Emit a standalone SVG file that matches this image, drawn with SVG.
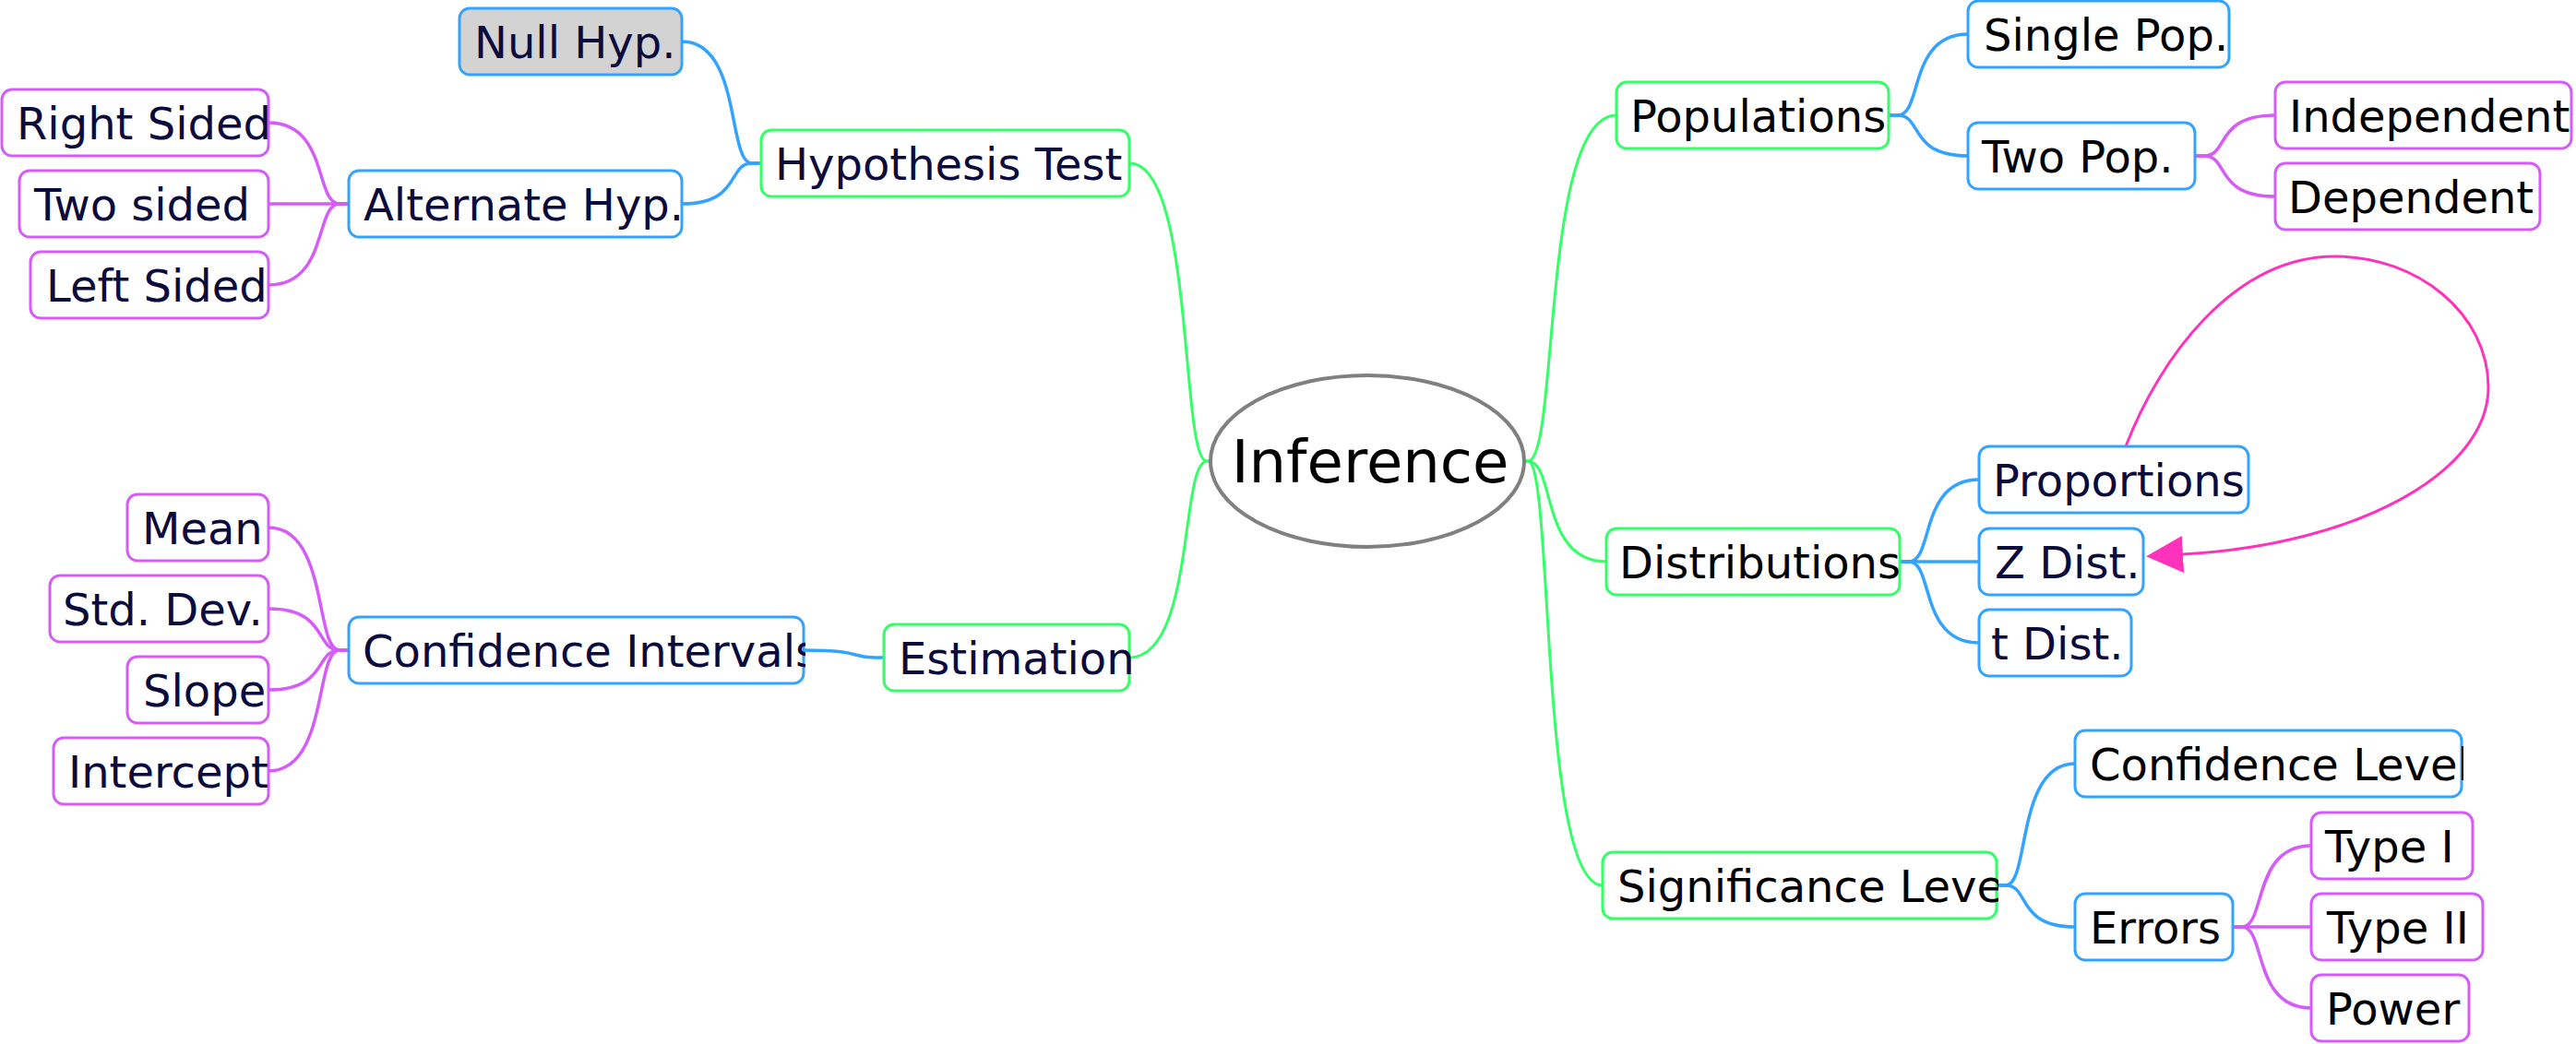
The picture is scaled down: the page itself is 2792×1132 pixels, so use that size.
<svg xmlns="http://www.w3.org/2000/svg" width="2792" height="1132" viewBox="0 0 2792 1132">
<style>
.box{fill:#ffffff;stroke-width:3}
.g{stroke:#33ff66}
.b{stroke:#33a3ff}
.p{stroke:#d55cf7}
.lbl{font-family:"DejaVu Sans","Liberation Sans",sans-serif;font-size:48px}
.navy{fill:#0b0b3d}
.blk{fill:#000000}
.c{fill:none;stroke-width:3.5}
.cg{stroke:#33ff66;stroke-width:3}
.cb{stroke:#33a3ff}
.cp{stroke:#d55cf7}
</style>
<defs>
<marker id="arr" viewBox="0 0 40 40" markerWidth="40" markerHeight="40" refX="0" refY="20" orient="auto" markerUnits="userSpaceOnUse">
<path d="M0,0 L40,20 L0,40 z" fill="#ff33bb"/>
</marker>
<clipPath id="k1"><rect x="498" y="9" width="243" height="72"/></clipPath>
<clipPath id="k2"><rect x="825" y="141" width="401" height="72"/></clipPath>
<clipPath id="k3"><rect x="378" y="185" width="363" height="72"/></clipPath>
<clipPath id="k4"><rect x="2" y="97" width="291" height="72"/></clipPath>
<clipPath id="k5"><rect x="21" y="185" width="272" height="72"/></clipPath>
<clipPath id="k6"><rect x="33" y="273" width="260" height="72"/></clipPath>
<clipPath id="k7"><rect x="138" y="536" width="155" height="72"/></clipPath>
<clipPath id="k8"><rect x="54" y="624" width="239" height="72"/></clipPath>
<clipPath id="k9"><rect x="138" y="712" width="155" height="72"/></clipPath>
<clipPath id="k10"><rect x="58" y="800" width="235" height="72"/></clipPath>
<clipPath id="k11"><rect x="378" y="669" width="495" height="72"/></clipPath>
<clipPath id="k12"><rect x="958" y="677" width="268" height="72"/></clipPath>
<clipPath id="k13"><rect x="1752" y="89" width="297" height="72"/></clipPath>
<clipPath id="k14"><rect x="2133" y="1" width="285" height="72"/></clipPath>
<clipPath id="k15"><rect x="2133" y="133" width="248" height="72"/></clipPath>
<clipPath id="k16"><rect x="2466" y="89" width="323" height="72"/></clipPath>
<clipPath id="k17"><rect x="2466" y="177" width="289" height="72"/></clipPath>
<clipPath id="k18"><rect x="1741" y="573" width="320" height="72"/></clipPath>
<clipPath id="k19"><rect x="2145" y="484" width="294" height="72"/></clipPath>
<clipPath id="k20"><rect x="2145" y="573" width="180" height="72"/></clipPath>
<clipPath id="k21"><rect x="2145" y="661" width="167" height="72"/></clipPath>
<clipPath id="k22"><rect x="1737" y="924" width="429" height="72"/></clipPath>
<clipPath id="k23"><rect x="2249" y="792" width="421" height="72"/></clipPath>
<clipPath id="k24"><rect x="2249" y="969" width="173" height="72"/></clipPath>
<clipPath id="k25"><rect x="2505" y="881" width="177" height="72"/></clipPath>
<clipPath id="k26"><rect x="2505" y="969" width="188" height="72"/></clipPath>
<clipPath id="k27"><rect x="2505" y="1057" width="173" height="72"/></clipPath>
</defs>

<g id="connectors">
<path class="c cg" d="M1312,500 L1308,500 C1279,500 1295,177 1224,177"/>
<path class="c cg" d="M1312,500 L1308,500 C1279,500 1295,713 1224,713"/>
<path class="c cg" d="M1652,500 L1656,500 C1690,500 1670,125 1752,125"/>
<path class="c cg" d="M1652,500 L1656,500 C1686,500 1669,609 1741,609"/>
<path class="c cg" d="M1652,500 L1656,500 C1684,500 1668,960 1737,960"/>
<path class="c cb" d="M825,177 L815,177 C788,177 804,45 739,45"/>
<path class="c cb" d="M825,177 L815,177 C788,177 804,221 739,221"/>
<path class="c cp" d="M378,221 L368,221 C341,221 356,133 291,133"/>
<path class="c cp" d="M378,221 L291,221"/>
<path class="c cp" d="M378,221 L368,221 C341,221 356,309 291,309"/>
<path class="c cb" d="M958,713 L948,713 C921,713 936,705 871,705"/>
<path class="c cp" d="M378,705 L368,705 C341,705 356,572 291,572"/>
<path class="c cp" d="M378,705 L368,705 C341,705 356,660 291,660"/>
<path class="c cp" d="M378,705 L368,705 C341,705 356,748 291,748"/>
<path class="c cp" d="M378,705 L368,705 C341,705 356,836 291,836"/>
<path class="c cb" d="M2047,125 L2057,125 C2084,125 2068,37 2133,37"/>
<path class="c cb" d="M2047,125 L2057,125 C2084,125 2068,169 2133,169"/>
<path class="c cp" d="M2379,169 L2389,169 C2416,169 2400,125 2466,125"/>
<path class="c cp" d="M2379,169 L2389,169 C2416,169 2400,213 2466,213"/>
<path class="c cb" d="M2059,609 L2069,609 C2096,609 2080,520 2145,520"/>
<path class="c cb" d="M2059,609 L2145,609"/>
<path class="c cb" d="M2059,609 L2069,609 C2096,609 2080,697 2145,697"/>
<path class="c cb" d="M2164,960 L2174,960 C2200,960 2185,828 2249,828"/>
<path class="c cb" d="M2164,960 L2174,960 C2200,960 2185,1005 2249,1005"/>
<path class="c cp" d="M2420,1005 L2430,1005 C2456,1005 2441,917 2505,917"/>
<path class="c cp" d="M2420,1005 L2505,1005"/>
<path class="c cp" d="M2420,1005 L2430,1005 C2456,1005 2441,1093 2505,1093"/>
<path fill="none" stroke="#ff33bb" stroke-width="3" marker-end="url(#arr)" d="M2304,484 C2340,390 2420,278 2531,278 C2620,278 2697,340 2697,420 C2697,510 2560,590 2366,601"/>
</g>

<g id="inference">
<ellipse cx="1482" cy="500" rx="170" ry="93" fill="#ffffff" stroke="#808080" stroke-width="4"/>
<text x="1485" y="523" text-anchor="middle" font-family="DejaVu Sans, Liberation Sans, sans-serif" font-size="64" fill="#000000">Inference</text>
</g>

<g id="null-hyp"><rect class="box b" x="498" y="9" width="241" height="72" rx="11" style="fill:#d3d3d3"/><text class="lbl navy" x="514" y="63" clip-path="url(#k1)">Null Hyp.</text></g>
<g id="hypothesis-test"><rect class="box g" x="825" y="141" width="399" height="72" rx="11"/><text class="lbl navy" x="840" y="195" clip-path="url(#k2)">Hypothesis Test</text></g>
<g id="alternate-hyp"><rect class="box b" x="378" y="185" width="361" height="72" rx="11"/><text class="lbl navy" x="394" y="239" clip-path="url(#k3)">Alternate Hyp.</text></g>
<g id="right-sided"><rect class="box p" x="2" y="97" width="289" height="72" rx="11"/><text class="lbl navy" x="18" y="151" clip-path="url(#k4)">Right Sided</text></g>
<g id="two-sided"><rect class="box p" x="21" y="185" width="270" height="72" rx="11"/><text class="lbl navy" x="37" y="239" clip-path="url(#k5)">Two sided</text></g>
<g id="left-sided"><rect class="box p" x="33" y="273" width="258" height="72" rx="11"/><text class="lbl navy" x="50" y="327" clip-path="url(#k6)">Left Sided</text></g>
<g id="mean"><rect class="box p" x="138" y="536" width="153" height="72" rx="11"/><text class="lbl navy" x="154" y="590" clip-path="url(#k7)">Mean</text></g>
<g id="std-dev"><rect class="box p" x="54" y="624" width="237" height="72" rx="11"/><text class="lbl navy" x="68" y="678" clip-path="url(#k8)">Std. Dev.</text></g>
<g id="slope"><rect class="box p" x="138" y="712" width="153" height="72" rx="11"/><text class="lbl navy" x="155" y="766" clip-path="url(#k9)">Slope</text></g>
<g id="intercept"><rect class="box p" x="58" y="800" width="233" height="72" rx="11"/><text class="lbl navy" x="74" y="854" clip-path="url(#k10)">Intercept</text></g>
<g id="confidence-intervals"><rect class="box b" x="378" y="669" width="493" height="72" rx="11"/><text class="lbl navy" x="393" y="723" clip-path="url(#k11)">Confidence Intervals</text></g>
<g id="estimation"><rect class="box g" x="958" y="677" width="266" height="72" rx="11"/><text class="lbl navy" x="974" y="731" clip-path="url(#k12)">Estimation</text></g>

<g id="populations"><rect class="box g" x="1752" y="89" width="295" height="72" rx="11"/><text class="lbl blk" x="1767" y="143" clip-path="url(#k13)">Populations</text></g>
<g id="single-pop"><rect class="box b" x="2133" y="1" width="283" height="72" rx="11"/><text class="lbl blk" x="2150" y="55" clip-path="url(#k14)">Single Pop.</text></g>
<g id="two-pop"><rect class="box b" x="2133" y="133" width="246" height="72" rx="11"/><text class="lbl blk" x="2148" y="187" clip-path="url(#k15)">Two Pop.</text></g>
<g id="independent"><rect class="box p" x="2466" y="89" width="321" height="72" rx="11"/><text class="lbl blk" x="2481" y="143" clip-path="url(#k16)">Independent</text></g>
<g id="dependent"><rect class="box p" x="2466" y="177" width="287" height="72" rx="11"/><text class="lbl blk" x="2480" y="231" clip-path="url(#k17)">Dependent</text></g>
<g id="distributions"><rect class="box g" x="1741" y="573" width="318" height="72" rx="11"/><text class="lbl blk" x="1755" y="627" clip-path="url(#k18)">Distributions</text></g>
<g id="proportions"><rect class="box b" x="2145" y="484" width="292" height="72" rx="11"/><text class="lbl navy" x="2160" y="538" clip-path="url(#k19)">Proportions</text></g>
<g id="z-dist"><rect class="box b" x="2145" y="573" width="178" height="72" rx="11"/><text class="lbl navy" x="2162" y="627" clip-path="url(#k20)">Z Dist.</text></g>
<g id="t-dist"><rect class="box b" x="2145" y="661" width="165" height="72" rx="11"/><text class="lbl navy" x="2158" y="715" clip-path="url(#k21)">t Dist.</text></g>
<g id="significance-level"><rect class="box g" x="1737" y="924" width="427" height="72" rx="11"/><text class="lbl blk" x="1753" y="978" clip-path="url(#k22)">Significance Level</text></g>
<g id="confidence-level"><rect class="box b" x="2249" y="792" width="419" height="72" rx="11"/><text class="lbl blk" x="2265" y="846" clip-path="url(#k23)">Confidence Level</text></g>
<g id="errors"><rect class="box b" x="2249" y="969" width="171" height="72" rx="11"/><text class="lbl blk" x="2265" y="1023" clip-path="url(#k24)">Errors</text></g>
<g id="type-i"><rect class="box p" x="2505" y="881" width="175" height="72" rx="11"/><text class="lbl blk" x="2520" y="935" clip-path="url(#k25)">Type I</text></g>
<g id="type-ii"><rect class="box p" x="2505" y="969" width="186" height="72" rx="11"/><text class="lbl blk" x="2522" y="1023" clip-path="url(#k26)">Type II</text></g>
<g id="power"><rect class="box p" x="2505" y="1057" width="171" height="72" rx="11"/><text class="lbl blk" x="2521" y="1111" clip-path="url(#k27)">Power</text></g>
</svg>
